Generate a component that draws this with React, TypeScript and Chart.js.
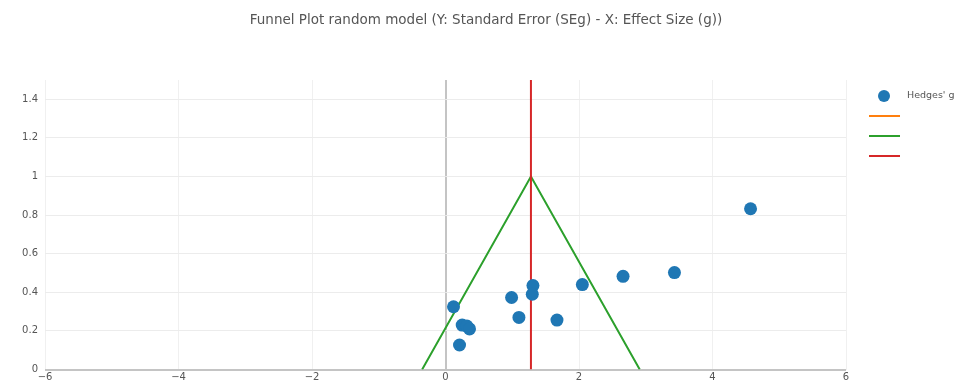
import React, { useEffect, useRef } from "react";
import { Chart, registerables } from "chart.js";

Chart.register(...registerables);

const TITLE = "Funnel Plot random model (Y: Standard Error (SEg) - X: Effect Size (g))";
const effectSizes = [0.12, 0.25, 0.32, 0.36, 0.21, 0.99, 1.1, 1.31, 1.3, 1.67, 2.05, 2.66, 3.43, 4.57];
const standardErrors = [0.325, 0.23, 0.225, 0.21, 0.127, 0.373, 0.27, 0.435, 0.39, 0.256, 0.44, 0.483, 0.502, 0.833];
const funnelX = [-0.35, 1.28, 2.91];
const funnelY = [0, 1, 0];
const pooledX = [1.28, 1.28];
const pooledY = [0, 1.5];
const xTicks = [-6, -4, -2, 0, 2, 4, 6];
const yTicks = [0, 0.2, 0.4, 0.6, 0.8, 1, 1.2, 1.4];
const legendLabels = ["Hedges' g", "", "", ""];

const FONT = "'DejaVu Sans', Verdana, sans-serif";

export default function App() {
  const ref = useRef<HTMLCanvasElement>(null);
  useEffect(() => {
    document.body.style.margin = "0";
    const overlay = {
      id: "overlay",
      afterDraw(chart: any) {
        const ctx = chart.ctx;
        ctx.save();
        ctx.fillStyle = "#555";
        ctx.font = `13.5px ${FONT}`;
        ctx.textAlign = "center";
        ctx.textBaseline = "middle";
        ctx.fillText(TITLE, 486, 20);
        // legend
        const lx = 869;
        let ly = 96;
        chart.data.datasets.forEach((ds: any, i: number) => {
          ctx.beginPath();
          if (i === 0) {
            ctx.fillStyle = ds.backgroundColor;
            ctx.arc(lx + 15, ly, 6, 0, Math.PI * 2);
            ctx.fill();
          } else {
            ctx.strokeStyle = ds.borderColor;
            ctx.lineWidth = 2;
            ctx.moveTo(lx, ly);
            ctx.lineTo(lx + 31, ly);
            ctx.stroke();
          }
          if (legendLabels[i]) {
            ctx.fillStyle = "#555";
            ctx.font = `9.5px ${FONT}`;
            ctx.textAlign = "left";
            ctx.fillText(legendLabels[i], lx + 38, ly);
          }
          ly += 20;
        });
        ctx.restore();
      },
    };
    const chart = new Chart(ref.current!, {
      type: "scatter",
      data: {
        datasets: [
          {
            label: legendLabels[0],
            data: effectSizes.map((x, i) => ({ x, y: standardErrors[i] })),
            backgroundColor: "#1f77b4",
            borderColor: "#1f77b4",
            pointRadius: 6.5,
            borderWidth: 0,
            order: 0,
          },
          {
            label: legendLabels[1],
            data: [],
            borderColor: "#ff7f0e",
            backgroundColor: "#ff7f0e",
            showLine: true,
            pointRadius: 0,
            order: 3,
          },
          {
            label: legendLabels[2],
            data: funnelX.map((x, i) => ({ x, y: funnelY[i] })),
            borderColor: "#2ca02c",
            backgroundColor: "#2ca02c",
            showLine: true,
            pointRadius: 0,
            borderWidth: 2,
            order: 2,
          },
          {
            label: legendLabels[3],
            data: pooledX.map((x, i) => ({ x, y: pooledY[i] })),
            borderColor: "#d62728",
            backgroundColor: "#d62728",
            showLine: true,
            pointRadius: 0,
            borderWidth: 2,
            order: 1,
          },
        ],
      },
      options: {
        animation: false,
        responsive: false,
        layout: { padding: { top: 80, right: 127, left: 0, bottom: 0 } },
        plugins: { legend: { display: false }, tooltip: { enabled: false }, title: { display: false } },
        scales: {
          x: {
            type: "linear",
            min: -6,
            max: 6,
            afterBuildTicks: (s: any) => {
              s.ticks = xTicks.map((v) => ({ value: v }));
            },
            afterFit: (s: any) => {
              s.height = 17.5;
            },
            border: { display: false },
            grid: {
              drawTicks: false,
              color: (c: any) => (c.tick && c.tick.value === 0 ? "#c4c4c4" : "#f0f0f0"),
              lineWidth: (c: any) => (c.tick && c.tick.value === 0 ? 2 : 1),
            },
            ticks: {
              padding: 2,
              color: "#555",
              font: { family: FONT, size: 10 },
              callback: (v: any) => (Number(v) < 0 ? "\u2212" + Math.abs(Number(v)) : String(v)),
            },
          },
          y: {
            type: "linear",
            min: 0,
            max: 1.5,
            afterBuildTicks: (s: any) => {
              s.ticks = yTicks.map((v) => ({ value: v }));
            },
            afterFit: (s: any) => {
              s.width = 45;
            },
            border: { display: false },
            grid: {
              drawTicks: false,
              color: (c: any) => (c.tick && c.tick.value === 0 ? "#c4c4c4" : "#ececec"),
              lineWidth: (c: any) => (c.tick && c.tick.value === 0 ? 2 : 1),
            },
            ticks: {
              padding: 7,
              color: "#555",
              font: { family: FONT, size: 10 },
              callback: (v: any) => String(v),
            },
          },
        },
      },
      plugins: [overlay],
    });
    return () => chart.destroy();
  }, []);
  return <canvas ref={ref} width={973} height={387} style={{ display: "block" }} />;
}
